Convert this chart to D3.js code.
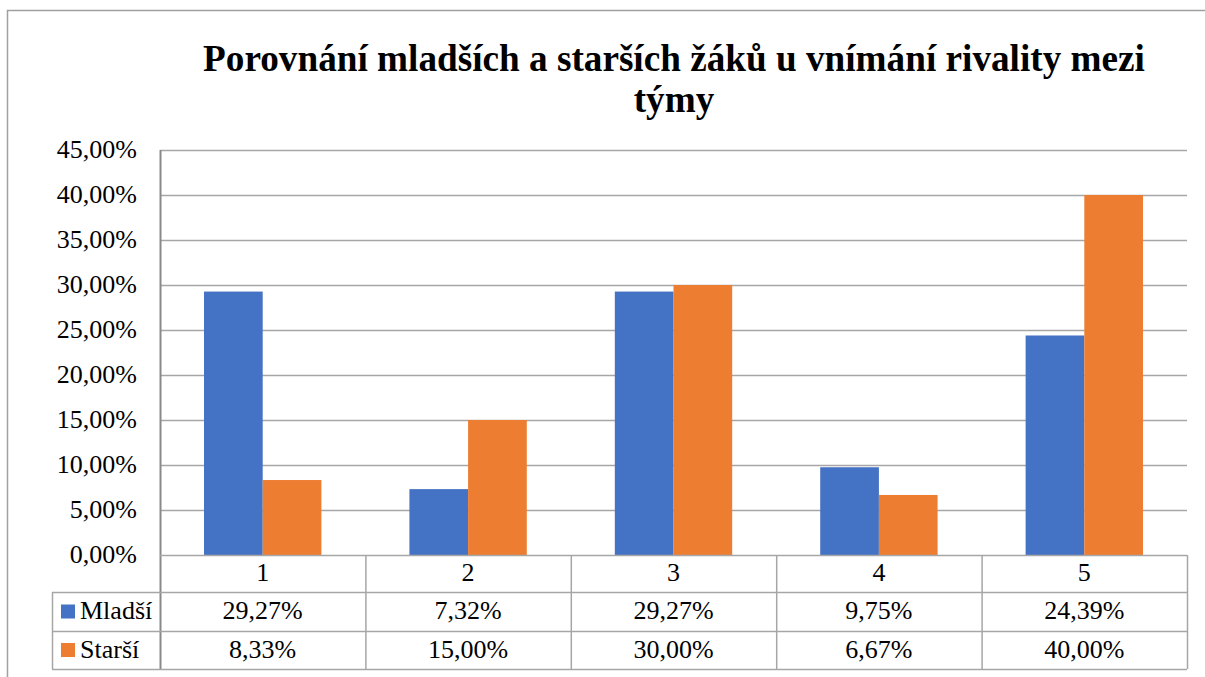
<!DOCTYPE html>
<html>
<head>
<meta charset="utf-8">
<script src="https://cdn.jsdelivr.net/npm/d3@7"></script>
<style>
  body { margin: 0; background: #fff; }
</style>
</head>
<body>
<div class="chart"></div>
<script>
const svgWidth = 1205;
const svgHeight = 677;

const categories = ['1', '2', '3', '4', '5'];
const seriesNames = ['Mladší', 'Starší'];
const mladsi = [29.27, 7.32, 29.27, 9.75, 24.39];
const starsi = [8.33, 15.00, 30.00, 6.67, 40.00];
const yTicks = [0, 5, 10, 15, 20, 25, 30, 35, 40, 45];
const colors = ['#4472C4', '#ED7D31'];

const plot = { left: 160, right: 1187, top: 150, bottom: 555 };
const tableRows = [555, 592, 631, 669];
const legendLeft = 52;
const gridColor = '#A6A6A6';
const serif = '"Liberation Serif"';

const fmt = v => v.toFixed(2).replace('.', ',') + '%';

const svg = d3.select('.chart')
  .append('svg')
  .attr('width', svgWidth)
  .attr('height', svgHeight);

// outer chart border
svg.append('rect')
  .attr('x', 7.5)
  .attr('y', 10.5)
  .attr('width', svgWidth + 20)
  .attr('height', svgHeight + 20)
  .attr('fill', 'none')
  .attr('stroke', '#A0A0A0')
  .attr('stroke-width', 1.5);

// title
const title = svg.append('text')
  .attr('text-anchor', 'middle')
  .style('font-family', serif)
  .style('font-weight', 'bold')
  .style('font-size', '35px');
const line1 = title.append('tspan').attr('x', 674).attr('y', 71)
  .text('Porovnání mladších a starších žáků u vnímání rivality mezi');
title.append('tspan').attr('x', 674).attr('y', 112)
  .text('týmy');
// fit first line to the width it has in the original (~942px)
const w = line1.node().getComputedTextLength();
title.style('font-size', (35 * 942 / w).toFixed(2) + 'px');

const xScale = d3.scaleBand()
  .domain(categories)
  .range([plot.left, plot.right]);

const yScale = d3.scaleLinear()
  .domain([0, 45])
  .range([plot.bottom, plot.top]);

// gridlines
svg.append('g')
  .selectAll('line')
  .data(yTicks.filter(d => d > 0))
  .enter()
  .append('line')
  .attr('x1', plot.left)
  .attr('x2', plot.right)
  .attr('y1', d => Math.round(yScale(d)) + 0.5)
  .attr('y2', d => Math.round(yScale(d)) + 0.5)
  .attr('stroke', gridColor)
  .attr('stroke-width', 1.5);

// y axis labels
const yAxis = d3.axisLeft(yScale)
  .tickValues(yTicks)
  .tickSize(0)
  .tickPadding(23)
  .tickFormat(fmt);
const yAxisGroup = svg.append('g')
  .attr('transform', `translate(${plot.left}, 0)`)
  .call(yAxis);
yAxisGroup.select('.domain').remove();
yAxisGroup.selectAll('text')
  .style('font-size', '26px')
  .style('font-family', serif)
  .attr('dy', '0.3em');

// bars
const barScale = d3.scaleBand()
  .domain([0, 1])
  .range([0, xScale.bandwidth()])
  .paddingOuter(0.75)
  .paddingInner(0);

const series = [mladsi, starsi];
series.forEach((values, si) => {
  svg.append('g')
    .selectAll('rect')
    .data(values)
    .enter()
    .append('rect')
    .attr('x', (d, i) => xScale(categories[i]) + barScale(si))
    .attr('width', barScale.bandwidth())
    .attr('y', d => yScale(d))
    .attr('height', d => yScale(0) - yScale(d))
    .attr('fill', colors[si]);
});

// left axis line
svg.append('line')
  .attr('x1', plot.left + 0.5).attr('x2', plot.left + 0.5)
  .attr('y1', plot.top).attr('y2', tableRows[3])
  .attr('stroke', '#898989')
  .attr('stroke-width', 2);

// data table
const table = svg.append('g');
table.append('line')
  .attr('x1', plot.left).attr('x2', plot.right)
  .attr('y1', tableRows[0] + 0.5).attr('y2', tableRows[0] + 0.5)
  .attr('stroke', gridColor).attr('stroke-width', 1.5);
table.selectAll('.hrow')
  .data(tableRows.slice(1))
  .enter()
  .append('line')
  .attr('x1', legendLeft).attr('x2', plot.right)
  .attr('y1', d => d + 0.5).attr('y2', d => d + 0.5)
  .attr('stroke', gridColor).attr('stroke-width', 1.5);
table.selectAll('.vcol')
  .data(categories.slice(1).map(c => xScale(c)).concat([plot.right]))
  .enter()
  .append('line')
  .attr('x1', d => d + 0.5).attr('x2', d => d + 0.5)
  .attr('y1', tableRows[0]).attr('y2', tableRows[3])
  .attr('stroke', gridColor).attr('stroke-width', 1.5);
table.append('line')
  .attr('x1', legendLeft + 0.5).attr('x2', legendLeft + 0.5)
  .attr('y1', tableRows[1]).attr('y2', tableRows[3])
  .attr('stroke', gridColor).attr('stroke-width', 1.5);

// category labels
table.selectAll('.cat')
  .data(categories)
  .enter()
  .append('text')
  .attr('x', d => xScale(d) + xScale.bandwidth() / 2)
  .attr('y', (tableRows[0] + tableRows[1]) / 2)
  .attr('dy', '0.3em')
  .attr('text-anchor', 'middle')
  .style('font-family', serif)
  .style('font-size', '26px')
  .text(d => d);

// series rows
series.forEach((values, si) => {
  const yMid = (tableRows[si + 1] + tableRows[si + 2]) / 2;
  table.append('rect')
    .attr('x', 61)
    .attr('y', yMid - 7)
    .attr('width', 14)
    .attr('height', 14)
    .attr('fill', colors[si]);
  table.append('text')
    .attr('x', 80)
    .attr('y', yMid)
    .attr('dy', '0.3em')
    .style('font-family', serif)
    .style('font-size', '26px')
    .text(seriesNames[si]);
  table.selectAll('.val' + si)
    .data(values)
    .enter()
    .append('text')
    .attr('x', (d, i) => xScale(categories[i]) + xScale.bandwidth() / 2)
    .attr('y', yMid)
    .attr('dy', '0.3em')
    .attr('text-anchor', 'middle')
    .style('font-family', serif)
    .style('font-size', '26px')
    .text(d => fmt(d));
});
</script>
</body>
</html>
